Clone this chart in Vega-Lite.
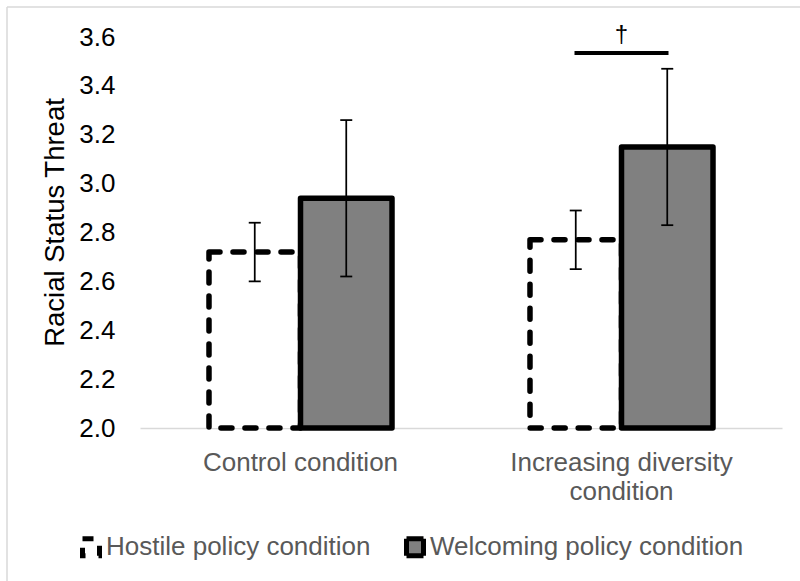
{
  "$schema": "https://vega.github.io/schema/vega-lite/v6.json",
  "width": 793,
  "height": 574,
  "autosize": {"type": "none"},
  "padding": {"left": 7, "top": 7, "right": 0, "bottom": 0},
  "background": "white",
  "config": {
    "view": {"stroke": "#d9d9d9", "strokeWidth": 1.5, "strokeDash": [793, 1367, 574, 0]},
    "font": "Liberation Sans"
  },
  "datasets": {
    "bars": [
      {"condition": "Control condition", "policy": "Hostile policy condition", "mean": 2.72, "lo": 2.60, "hi": 2.84},
      {"condition": "Increasing diversity condition", "policy": "Hostile policy condition", "mean": 2.77, "lo": 2.65, "hi": 2.89},
      {"condition": "Control condition", "policy": "Welcoming policy condition", "mean": 2.94, "lo": 2.62, "hi": 3.26},
      {"condition": "Increasing diversity condition", "policy": "Welcoming policy condition", "mean": 3.15, "lo": 2.83, "hi": 3.47}
    ],
    "sig": [
      {"condition": "Increasing diversity condition", "line": 3.535, "markpos": 3.61, "label": "†"}
    ]
  },
  "layer": [
    {
      "data": {"name": "bars"},
      "mark": {"type": "bar", "stroke": "black", "strokeWidth": 5.5, "strokeCap": "round", "strokeJoin": "round"},
      "encoding": {
        "x": {
          "field": "condition", "type": "nominal",
          "scale": {"domain": ["Control condition", "Increasing diversity condition"], "range": [133, 775], "paddingInner": 0, "paddingOuter": 0},
          "axis": {
            "orient": "bottom", "offset": -153, "title": null,
            "domainColor": "#d9d9d9", "domainWidth": 1.5, "ticks": false, "grid": false,
            "labelFontSize": 26, "labelColor": "#595959", "labelPadding": 21, "labelAngle": 0,
            "labelLineHeight": 29, "labelLimit": 500,
            "labelExpr": "datum.value == 'Increasing diversity condition' ? ['Increasing diversity', 'condition'] : datum.value"
          }
        },
        "xOffset": {
          "field": "policy", "type": "nominal",
          "scale": {"domain": ["Hostile policy condition", "Welcoming policy condition"], "paddingOuter": 0.754, "paddingInner": 0}
        },
        "y": {
          "field": "mean", "type": "quantitative",
          "scale": {"domain": [2, 3.6], "range": [421, 30], "nice": false, "zero": false},
          "axis": {
            "orient": "left", "offset": -133, "domain": false, "ticks": false, "grid": false,
            "values": [2, 2.2, 2.4, 2.6, 2.8, 3.0, 3.2, 3.4, 3.6], "format": ".1f",
            "labelFontSize": 26, "labelColor": "black", "labelPadding": 25,
            "title": "Racial Status Threat", "titleFontSize": 27.5, "titleFontWeight": "normal",
            "titleColor": "black", "titlePadding": 9, "titleY": 215
          }
        },
        "y2": {"datum": 2},
        "fill": {
          "field": "policy", "type": "nominal",
          "scale": {"domain": ["Hostile policy condition", "Welcoming policy condition"], "range": ["white", "#808080"]},
          "legend": {
            "orient": "none", "legendX": 71, "legendY": 527, "direction": "horizontal", "title": null,
            "labelFontSize": 26, "labelColor": "#595959", "labelLimit": 500, "symbolType": "square", "symbolSize": 289,
            "symbolStrokeWidth": 5, "symbolStrokeColor": "black", "labelOffset": 2, "columnPadding": 25, "padding": 0
          }
        },
        "strokeDash": {
          "field": "policy", "type": "nominal",
          "scale": {"domain": ["Hostile policy condition", "Welcoming policy condition"], "range": [[11, 13], [1, 0]]}
        }
      }
    },
    {
      "data": {"name": "bars"},
      "mark": {"type": "rule", "color": "black", "strokeWidth": 1.75, "opacity": 1},
      "encoding": {
        "x": {"field": "condition", "type": "nominal"},
        "xOffset": {"field": "policy", "type": "nominal"},
        "y": {"field": "lo", "type": "quantitative"},
        "y2": {"field": "hi"}
      }
    },
    {
      "data": {"name": "bars"},
      "mark": {"type": "tick", "color": "black", "size": 12, "thickness": 1.75, "opacity": 1},
      "encoding": {
        "x": {"field": "condition", "type": "nominal"},
        "xOffset": {"field": "policy", "type": "nominal"},
        "y": {"field": "lo", "type": "quantitative"}
      }
    },
    {
      "data": {"name": "bars"},
      "mark": {"type": "tick", "color": "black", "size": 12, "thickness": 1.75, "opacity": 1},
      "encoding": {
        "x": {"field": "condition", "type": "nominal"},
        "xOffset": {"field": "policy", "type": "nominal"},
        "y": {"field": "hi", "type": "quantitative"}
      }
    },
    {
      "data": {"name": "sig"},
      "mark": {"type": "tick", "color": "black", "size": 94, "thickness": 4, "opacity": 1},
      "encoding": {
        "x": {"field": "condition", "type": "nominal"},
        "y": {"field": "line", "type": "quantitative"}
      }
    },
    {
      "data": {"name": "sig"},
      "mark": {"type": "text", "color": "black", "fontSize": 24, "baseline": "middle", "align": "center"},
      "encoding": {
        "x": {"field": "condition", "type": "nominal"},
        "y": {"field": "markpos", "type": "quantitative"},
        "text": {"field": "label"}
      }
    }
  ]
}
